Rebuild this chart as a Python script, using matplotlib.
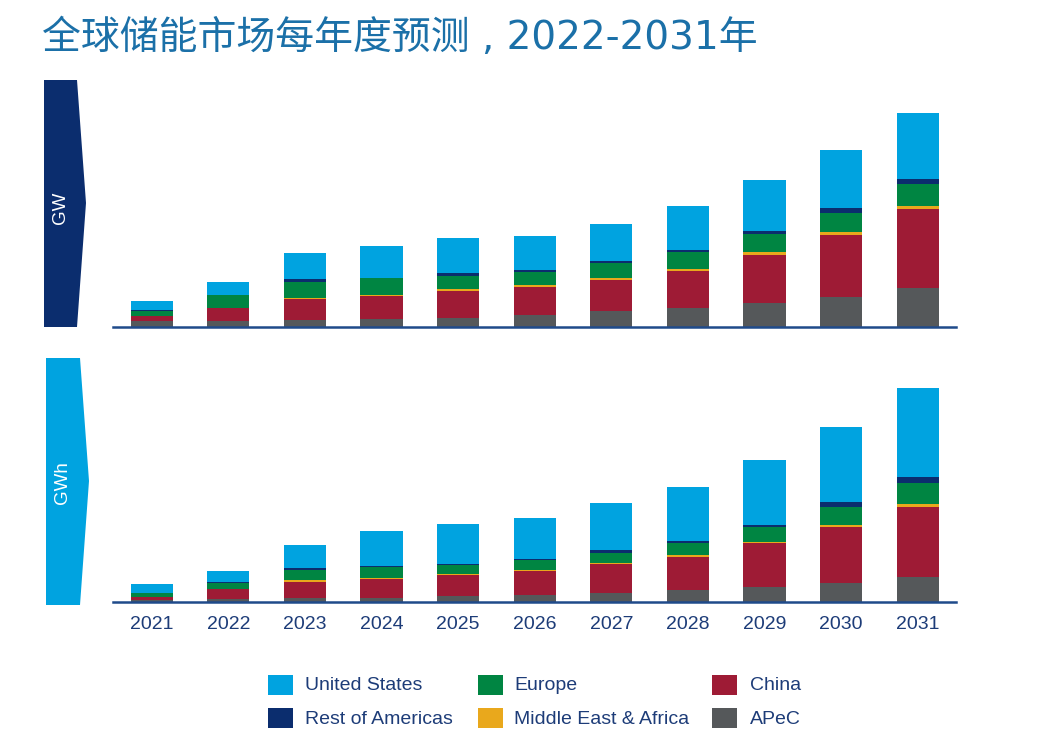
import numpy as np
import matplotlib
matplotlib.use('Agg')
import matplotlib.pyplot as plt
from matplotlib.patches import Polygon, Rectangle

plt.rcParams['font.family'] = ['Liberation Sans', 'DejaVu Sans']

# Estimated values (no axis scale in the source, read as relative heights)
years = ['2021', '2022', '2023', '2024', '2025', '2026', '2027', '2028', '2029', '2030', '2031']
series = ['APeC', 'China', 'Middle East & Africa', 'Europe', 'Rest of Americas', 'United States']
colors = ['#55585a', '#9e1b35', '#e9a81c', '#008542', '#0b2d6e', '#00a3e0']

gw_apec = [5.7, 5.7, 7.0, 8.3, 9.3, 12.0, 16.0, 19.3, 24.3, 30.3, 38.7]
gw_china = [5.3, 13.3, 20.7, 22.7, 27.0, 28.0, 31.3, 36.7, 47.7, 61.3, 79.3]
gw_mea = [0.0, 0.3, 1.3, 0.7, 2.0, 1.7, 2.0, 1.7, 2.7, 3.0, 2.7]
gw_europe = [5.3, 12.7, 16.0, 17.0, 13.0, 13.3, 14.3, 17.0, 18.7, 19.3, 22.0]
gw_roa = [0.5, 0.3, 2.7, 0.5, 2.3, 2.0, 2.3, 2.3, 2.7, 5.3, 5.0]
gw_us = [9.4, 12.3, 26.0, 32.3, 35.0, 34.0, 37.3, 43.7, 50.7, 58.3, 66.0]

gwh_apec = [2.3, 3.3, 4.7, 4.7, 6.3, 7.3, 9.7, 12.0, 15.7, 19.7, 25.7]
gwh_china = [3.3, 10.0, 16.0, 18.3, 20.7, 24.3, 28.3, 33.3, 43.3, 55.3, 70.0]
gwh_mea = [0.0, 0.0, 1.7, 1.7, 1.7, 0.7, 1.7, 1.7, 1.7, 2.0, 3.0]
gwh_europe = [4.0, 6.3, 9.7, 10.7, 8.3, 10.0, 9.7, 12.3, 14.7, 18.3, 21.0]
gwh_roa = [0.0, 0.7, 2.3, 0.5, 1.3, 0.7, 2.7, 2.3, 2.3, 5.0, 6.0]
gwh_us = [9.0, 10.7, 22.7, 35.8, 39.7, 41.0, 47.0, 53.7, 64.7, 75.3, 88.3]

legend_order = ['United States', 'Europe', 'China',
                'Rest of Americas', 'Middle East & Africa', 'APeC']

navy_text = '#1d3c78'

fig = plt.figure(figsize=(10.42, 7.36), dpi=100)
W, H = 1042, 736


def stacked(ax, layers):
    x = np.arange(len(years))
    bottom = np.zeros(len(years))
    for vals, col in zip(layers, colors):
        vals = np.array(vals)
        ax.bar(x, vals, width=0.55, bottom=bottom, color=col, linewidth=0)
        bottom += vals
    ax.set_xlim(-0.505, 10.5)
    ax.set_ylim(0, 240)
    for s in ['top', 'right', 'left']:
        ax.spines[s].set_visible(False)
    ax.spines['bottom'].set_color('#1f4a8a')
    ax.spines['bottom'].set_linewidth(1.8)
    ax.set_yticks([])
    ax.set_xticks(x)
    ax.tick_params(axis='x', length=0, pad=10, labelsize=14, labelcolor=navy_text)


def ax_rect(left, right, base_px, top_px):
    return [left / W, 1 - base_px / H, (right - left) / W, (base_px - top_px) / H]


ax1 = fig.add_axes(ax_rect(113, 956, 327, 87))
stacked(ax1, [gw_apec, gw_china, gw_mea, gw_europe, gw_roa, gw_us])
ax1.set_xticklabels([])

ax2 = fig.add_axes(ax_rect(113, 956, 602.3, 362.3))
stacked(ax2, [gwh_apec, gwh_china, gwh_mea, gwh_europe, gwh_roa, gwh_us])
ax2.set_xticklabels(years)

# overlay in pixel coordinates for arrows, title and legend
ov = fig.add_axes([0, 0, 1, 1], zorder=-1)
ov.set_xlim(0, W)
ov.set_ylim(H, 0)
ov.axis('off')

ov.add_patch(Polygon([(44, 80), (77, 80), (86, 203), (77, 327), (44, 327)],
                     closed=True, color='#0b2d6e', lw=0))
ov.text(61, 208, 'GW', rotation=90, color='white', fontsize=13.5,
        ha='center', va='center')
ov.add_patch(Polygon([(46, 358), (80, 358), (89, 481), (80, 605), (46, 605)],
                     closed=True, color='#00a3e0', lw=0))
ov.text(63, 483, 'GWh', rotation=90, color='white', fontsize=13.5,
        ha='center', va='center')

fig.text(42 / W, 1 - 38 / H, '全球储能市场每年度预测 , 2022-2031年',
         family=['DejaVu Sans', 'Noto Sans CJK SC'], fontsize=28,
         color='#1b70a8', ha='left', va='center')

# legend
col_x = [268, 478, 712]
text_x = [305, 514, 750]
row_y = [685, 718]
for i, name in enumerate(legend_order):
    r, c = divmod(i, 3)
    col = colors[series.index(name)]
    ov.add_patch(Rectangle((col_x[c], row_y[r] - 10), 25, 20, color=col, lw=0))
    ov.text(text_x[c], row_y[r] + 1, name, fontsize=14, color=navy_text,
            ha='left', va='center')

fig.savefig('out.png', dpi=100)
